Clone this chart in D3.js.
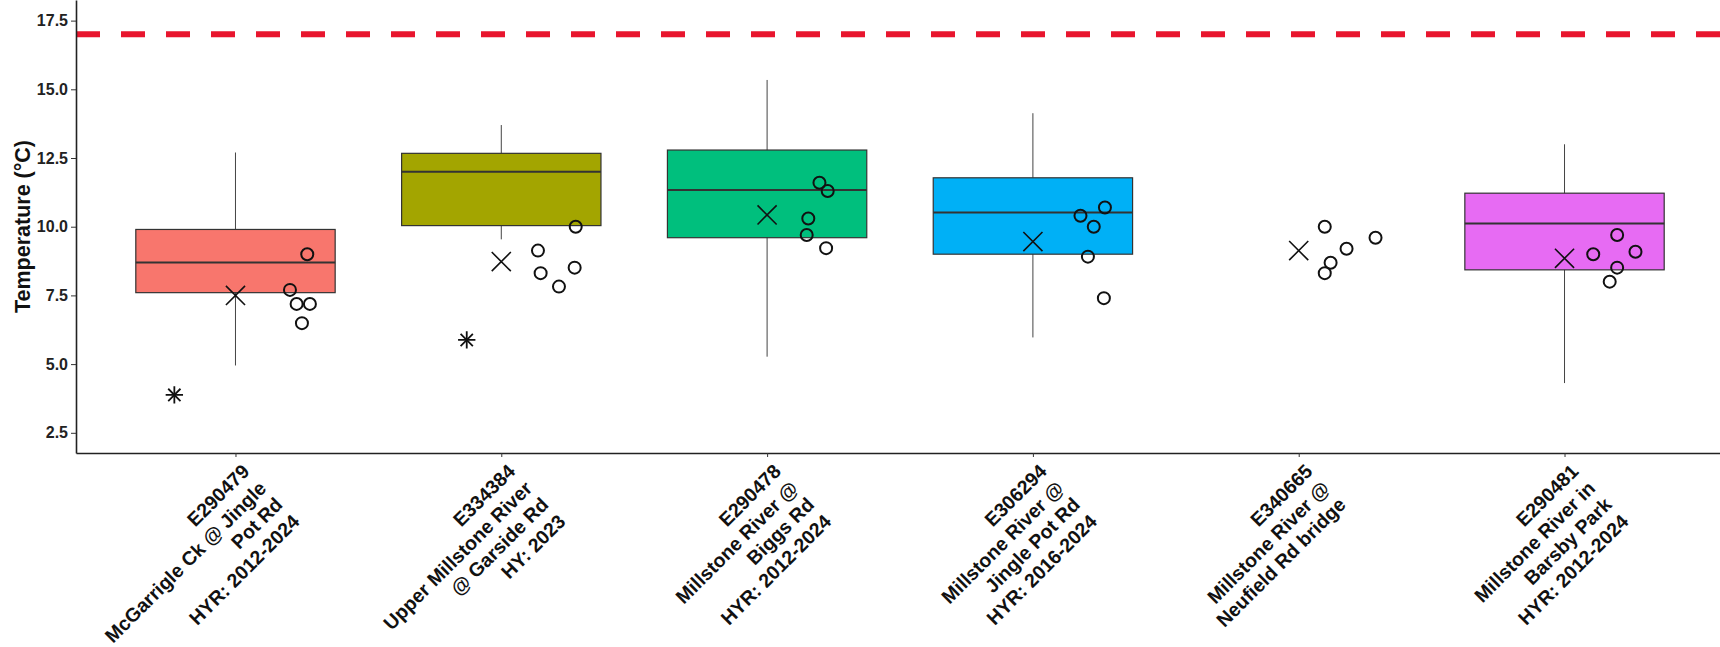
<!DOCTYPE html>
<html>
<head>
<meta charset="utf-8">
<script src="https://cdn.jsdelivr.net/npm/d3@7"></script>
<style>
  html, body { margin: 0; padding: 0; background: #ffffff; }
  #wrap { position: relative; width: 1720px; height: 647px; overflow: hidden; }
  svg { display: block; position: absolute; left: 0; top: 0; font-family: "Liberation Sans", Arial, sans-serif; }
  .xlab {
    position: absolute; left: 0; top: 0;
    transform-origin: 0 0;
    white-space: pre; text-align: right;
    font-family: "Liberation Sans", Arial, sans-serif;
    font-weight: bold; font-size: 19.5px; line-height: 23.6px; color: #111;
  }
</style>
</head>
<body>
<div id="wrap">
<svg id="chart" width="1720" height="647"></svg>
</div>
<script>
// ---------------- data ----------------
const sites = ["E290479", "E334384", "E290478", "E306294", "E340665", "E290481"];
const siteLabels = [
  ["E290479", "McGarrigle Ck @ Jingle", "Pot Rd", "HYR: 2012-2024"],
  ["E334384", "Upper Millstone River", "@ Garside Rd", "HY: 2023"],
  ["E290478", "Millstone River @", "Biggs Rd", "HYR: 2012-2024"],
  ["E306294", "Millstone River @", "Jingle Pot Rd", "HYR: 2016-2024"],
  ["E340665", "Millstone River @", "Neufield Rd bridge"],
  ["E290481", "Millstone River in", "Barsby Park", "HYR: 2012-2024"]
];
const boxColors   = ["#F8766D", "#A3A500", "#00BF7D", "#00B0F6", null, "#E76BF3"];
const whiskerLow  = [4.95, 9.54, 5.27, 5.97, null, 4.31];
const q1          = [7.60, 10.04, 9.60, 9.00, null, 8.43];
const medians     = [8.70, 12.00, 11.34, 10.52, null, 10.12];
const q3          = [9.90, 12.67, 12.79, 11.78, null, 11.22];
const whiskerHigh = [12.70, 13.70, 15.34, 14.13, null, 13.00];
const meanValues  = [7.50, 8.73, 10.43, 9.46, 9.13, 8.85];
// asterisk markers: value and horizontal jitter (in category units)
const starValues  = [3.88, 5.88, null, null, null, null];
const starJitter  = [-0.23, -0.13, 0, 0, 0, 0];
// open-circle points per site: values and horizontal jitter (category units)
const pointValues = [
  [9.00, 7.70, 7.19, 7.19, 6.49],
  [10.00, 9.13, 8.31, 7.82, 8.51],
  [11.60, 11.30, 10.30, 9.70, 9.22],
  [10.40, 10.70, 10.00, 8.91, 7.40],
  [10.00, 9.20, 8.69, 8.31, 9.60],
  [9.00, 9.70, 9.09, 8.51, 8.00]
];
const pointJitter = [
  [0.270, 0.205, 0.230, 0.280, 0.250],
  [0.280, 0.138, 0.148, 0.217, 0.276],
  [0.197, 0.228, 0.155, 0.149, 0.222],
  [0.179, 0.271, 0.229, 0.207, 0.267],
  [0.098, 0.180, 0.120, 0.098, 0.289],
  [0.108, 0.198, 0.267, 0.198, 0.170]
];
const threshold = 17;
const yTicks = [2.5, 5.0, 7.5, 10.0, 12.5, 15.0, 17.5];
const yTitle = "Temperature (°C)";

// ---------------- layout ----------------
const W = 1720, H = 647;
const panelLeft = 76, panelRight = 1724, panelTop = 0, panelBottom = 453;

const svg = d3.select("#chart");

const x = d3.scalePoint().domain(sites).range([panelLeft, panelRight]).padding(0.6);
const y = d3.scaleLinear().domain([1.765, 18.25]).range([panelBottom, panelTop]);
const step = x.step();
const boxW = step * 0.75;

// threshold line
svg.append("line")
  .attr("x1", panelLeft).attr("x2", W)
  .attr("y1", y(threshold)).attr("y2", y(threshold))
  .attr("stroke", "#e8162e").attr("stroke-width", 6)
  .attr("stroke-dasharray", "24 21");

const boxIdx = sites.map((s, i) => i).filter(i => q1[i] !== null);

// whiskers
svg.append("g").selectAll("line").data(boxIdx).join("line")
  .attr("x1", i => x(sites[i])).attr("x2", i => x(sites[i]))
  .attr("y1", i => y(whiskerLow[i])).attr("y2", i => y(whiskerHigh[i]))
  .attr("stroke", "#444").attr("stroke-width", 1);

// boxes
svg.append("g").selectAll("rect").data(boxIdx).join("rect")
  .attr("x", i => x(sites[i]) - boxW / 2)
  .attr("width", boxW)
  .attr("y", i => y(q3[i]))
  .attr("height", i => y(q1[i]) - y(q3[i]))
  .attr("fill", i => boxColors[i])
  .attr("stroke", "#333").attr("stroke-width", 1.2);

// medians
svg.append("g").selectAll("line").data(boxIdx).join("line")
  .attr("x1", i => x(sites[i]) - boxW / 2).attr("x2", i => x(sites[i]) + boxW / 2)
  .attr("y1", i => y(medians[i])).attr("y2", i => y(medians[i]))
  .attr("stroke", "#333").attr("stroke-width", 2);

// mean markers (X)
const xSym = d3.symbol().type(d3.symbolX).size(240);
svg.append("g").selectAll("path").data(sites.map((s, i) => i)).join("path")
  .attr("d", xSym)
  .attr("transform", i => `translate(${x(sites[i])},${y(meanValues[i])})`)
  .attr("fill", "none").attr("stroke", "#111").attr("stroke-width", 1.6);

// asterisk markers (x + plus)
const starIdx = sites.map((s, i) => i).filter(i => starValues[i] !== null);
const starSym = d3.symbol().type(d3.symbolX).size(100);
const starG = svg.append("g");
[0, 45].forEach(rot => {
  starG.append("g").selectAll("path").data(starIdx).join("path")
    .attr("d", starSym)
    .attr("transform", i => `translate(${x(sites[i]) + starJitter[i] * step},${y(starValues[i])}) rotate(${rot})`)
    .attr("fill", "none").attr("stroke", "#111").attr("stroke-width", 1.8);
});

// open circles
const pts = [];
pointValues.forEach((vals, i) => vals.forEach((v, k) => pts.push({ i, v, j: pointJitter[i][k] })));
const circSym = d3.symbol().type(d3.symbolCircle).size(Math.PI * 36);
svg.append("g").selectAll("path").data(pts).join("path")
  .attr("d", circSym)
  .attr("transform", d => `translate(${x(sites[d.i]) + d.j * step},${y(d.v)})`)
  .attr("fill", "none").attr("stroke", "#111").attr("stroke-width", 2);

// y axis
const yAxis = svg.append("g").attr("transform", `translate(${panelLeft},0)`)
  .call(d3.axisLeft(y).tickValues(yTicks).tickFormat(d3.format(".1f")).tickSize(5).tickPadding(3).tickSizeOuter(0));
yAxis.select(".domain").attr("stroke", "#222").attr("stroke-width", 1.6);
yAxis.selectAll(".tick line").attr("stroke", "#333");
yAxis.selectAll(".tick text")
  .attr("font-size", 16).attr("font-weight", "bold").attr("fill", "#222")
  .attr("font-family", "Liberation Sans, Arial, sans-serif");

// x axis
const xAxis = svg.append("g").attr("transform", `translate(0,${panelBottom})`)
  .call(d3.axisBottom(x).tickSize(4).tickSizeOuter(0).tickFormat(""));
xAxis.select(".domain").attr("stroke", "#222").attr("stroke-width", 1.6);
xAxis.selectAll(".tick line").attr("stroke", "#333");

// x labels (multi-line, rotated 45, right-aligned at tick) as HTML blocks
d3.select("#wrap").selectAll("div.xlab").data(sites.map((s, i) => i)).join("div")
  .attr("class", "xlab")
  .style("transform", i => `translate(${x(sites[i])}px, ${panelBottom + 4.5}px) rotate(-45deg) translate(-100%, 3.3px)`)
  .text(i => siteLabels[i].join("\n"));

// y title
svg.append("text")
  .attr("transform", `translate(30,${(panelTop + panelBottom) / 2}) rotate(-90)`)
  .attr("text-anchor", "middle")
  .attr("font-size", 21.5).attr("font-weight", "bold").attr("fill", "#111")
  .text(yTitle);
</script>
</body>
</html>
